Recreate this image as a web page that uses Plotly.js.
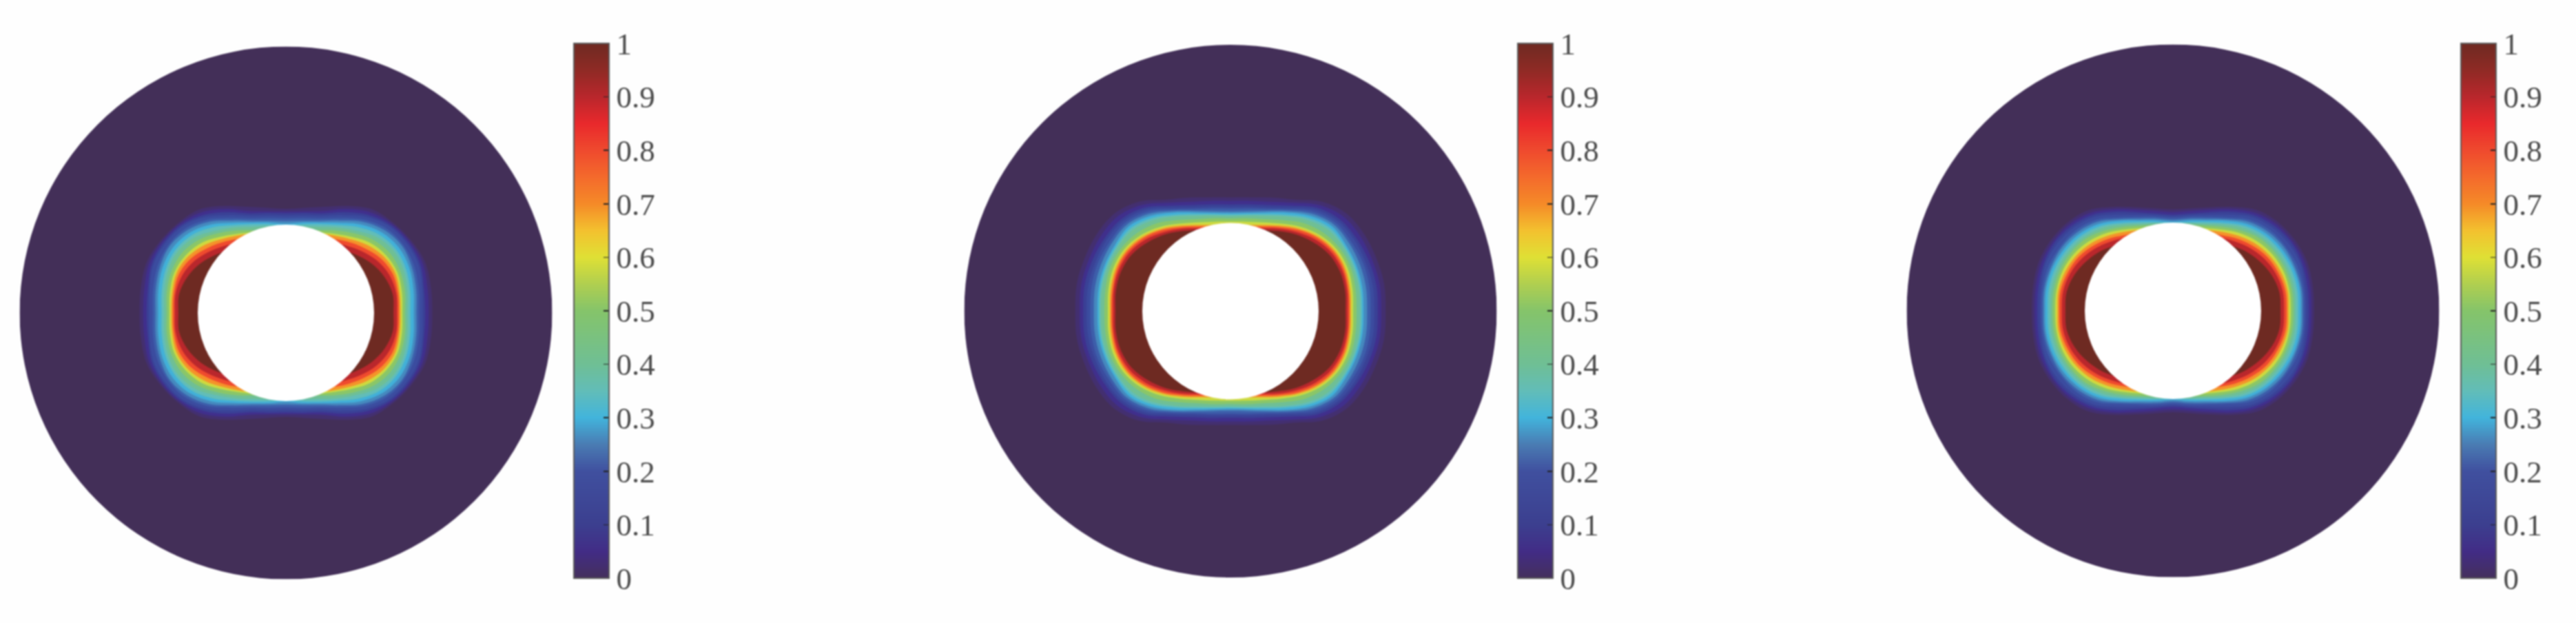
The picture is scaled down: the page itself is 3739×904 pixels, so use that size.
<!DOCTYPE html>
<html><head><meta charset="utf-8">
<script src="https://cdn.plot.ly/plotly-3.0.1.min.js"></script>
<style>html,body{margin:0;padding:0;background:#fefefe}#g{width:3739px;height:904px;filter:blur(1.1px)}</style>
</head><body><div id="g"></div>
<script>
const W = 3739, H = 904;
const RAY_ANGLES = [0,10,20,30,40,50,60,70,80,90];
const LEVELS = [0.02,0.06,0.10,0.15,0.20,0.25,0.30,0.35,0.40,0.50,0.60,0.70,0.80,0.90,1.00];
const LEVEL_COLORS = ['#432f70','#402f8c','#3a4196','#3b4c9f','#3d5eaa','#4589be','#42b0d8','#62bdb8','#6fbf95','#8ac668','#cfda3e','#f5922a','#ef4a2e','#b9272c','#6e2a22'];
const COLOR_STOPS = [[0,'#45305c'],[0.05,'#422c86'],[0.1,'#3c3f8f'],[0.2,'#40509f'],[0.25,'#4a7cb3'],[0.3,'#42b4dc'],[0.35,'#62bdb8'],[0.4,'#6fbf95'],[0.5,'#85c46a'],[0.55,'#b0cf50'],[0.6,'#dfe035'],[0.65,'#f3c12f'],[0.7,'#f58a28'],[0.75,'#f46a2c'],[0.8,'#ef4a2e'],[0.85,'#e9292c'],[0.9,'#b9272c'],[0.95,'#8f2a25'],[1,'#6e2a22']];
const TICK_VALUES = [0,0.1,0.2,0.3,0.4,0.5,0.6,0.7,0.8,0.9,1];
const TICK_LABELS = ['0','0.1','0.2','0.3','0.4','0.5','0.6','0.7','0.8','0.9','1'];
const OUTER_RADIUS = 3.02, HOLE_RADIUS = 1;

// Radius of each level's contour along each ray (hole radius = 1), one row per level
const radiiLeft = [
[1.66,1.67,1.68,1.64,1.59,1.53,1.40,1.28,1.21,1.18],
[1.62,1.63,1.65,1.62,1.57,1.49,1.36,1.23,1.17,1.15],
[1.58,1.59,1.62,1.60,1.55,1.45,1.32,1.20,1.15,1.13],
[1.55,1.57,1.60,1.58,1.53,1.42,1.28,1.17,1.12,1.10],
[1.51,1.53,1.55,1.54,1.49,1.38,1.24,1.14,1.09,1.07],
[1.48,1.50,1.52,1.52,1.46,1.35,1.21,1.11,1.06,1.04],
[1.45,1.47,1.49,1.48,1.42,1.31,1.18,1.09,1.04,1.01],
[1.41,1.43,1.45,1.44,1.38,1.27,1.15,1.07,1.02,0.99],
[1.38,1.40,1.42,1.41,1.34,1.22,1.12,1.04,1.00,0.98],
[1.35,1.37,1.38,1.36,1.29,1.18,1.08,1.00,0.97,0.95],
[1.32,1.335,1.345,1.31,1.24,1.13,1.04,0.98,0.95,0.93],
[1.30,1.31,1.32,1.28,1.20,1.10,1.02,0.96,0.93,0.91],
[1.28,1.29,1.29,1.24,1.15,1.06,0.98,0.94,0.91,0.90],
[1.26,1.27,1.25,1.19,1.10,1.01,0.95,0.92,0.90,0.90],
[1.22,1.23,1.19,1.12,1.03,0.94,0.90,0.90,0.90,0.90]];
const radiiMiddle = [
[1.76,1.77,1.76,1.75,1.72,1.62,1.46,1.37,1.31,1.29],
[1.71,1.72,1.71,1.70,1.67,1.57,1.42,1.32,1.27,1.25],
[1.67,1.68,1.67,1.65,1.62,1.53,1.38,1.28,1.23,1.21],
[1.63,1.64,1.63,1.62,1.59,1.50,1.35,1.25,1.20,1.18],
[1.59,1.60,1.60,1.58,1.56,1.47,1.33,1.23,1.18,1.16],
[1.55,1.56,1.56,1.55,1.53,1.44,1.31,1.21,1.15,1.13],
[1.51,1.52,1.52,1.51,1.50,1.41,1.29,1.19,1.13,1.11],
[1.49,1.50,1.50,1.49,1.47,1.38,1.26,1.17,1.115,1.095],
[1.47,1.48,1.48,1.47,1.44,1.35,1.24,1.15,1.10,1.08],
[1.43,1.44,1.45,1.43,1.38,1.30,1.19,1.11,1.07,1.05],
[1.39,1.405,1.415,1.395,1.335,1.245,1.145,1.07,1.03,1.015],
[1.365,1.38,1.39,1.37,1.31,1.22,1.12,1.04,0.99,0.97],
[1.35,1.36,1.37,1.35,1.29,1.20,1.10,1.02,0.97,0.95],
[1.33,1.345,1.35,1.325,1.26,1.17,1.08,1.00,0.95,0.93],
[1.305,1.32,1.32,1.29,1.22,1.14,1.05,0.98,0.92,0.90]];
const radiiRight = [
[1.60,1.61,1.62,1.60,1.56,1.49,1.36,1.25,1.18,1.15],
[1.57,1.58,1.59,1.57,1.53,1.45,1.33,1.22,1.15,1.12],
[1.54,1.55,1.56,1.55,1.50,1.42,1.30,1.19,1.12,1.09],
[1.51,1.52,1.54,1.52,1.47,1.39,1.26,1.16,1.10,1.07],
[1.49,1.50,1.50,1.47,1.43,1.35,1.22,1.13,1.08,1.05],
[1.47,1.48,1.47,1.45,1.40,1.32,1.20,1.11,1.06,1.03],
[1.45,1.46,1.45,1.42,1.37,1.29,1.18,1.09,1.04,1.01],
[1.42,1.43,1.42,1.39,1.34,1.26,1.15,1.07,1.02,1.00],
[1.39,1.40,1.39,1.36,1.31,1.23,1.13,1.05,1.01,0.99],
[1.365,1.37,1.36,1.33,1.28,1.19,1.10,1.03,0.99,0.97],
[1.335,1.34,1.33,1.295,1.235,1.155,1.065,1.00,0.97,0.95],
[1.31,1.32,1.30,1.26,1.20,1.12,1.04,0.98,0.95,0.93],
[1.29,1.295,1.27,1.23,1.16,1.08,1.00,0.96,0.93,0.91],
[1.26,1.265,1.24,1.19,1.12,1.04,0.97,0.93,0.91,0.90],
[1.22,1.225,1.19,1.13,1.06,0.98,0.92,0.90,0.90,0.90]];

const PANELS = [
 {radii: radiiLeft,   cx: 415,  cy: 454,   barLeft: 833},
 {radii: radiiMiddle, cx: 1786, cy: 451.5, barLeft: 2203},
 {radii: radiiRight,  cx: 3154, cy: 451,   barLeft: 3572}
];
const PX_R = 386.5, BAR_W = 51, BAR_TOP = 63, BAR_BOTTOM = 839;

function outline(row){
  // the four quadrants mirror the read quarter
  const pts = [];
  const add = (deg, r) => pts.push([r*Math.cos(deg*Math.PI/180), r*Math.sin(deg*Math.PI/180)]);
  for (let i=0;i<row.length;i++) add(RAY_ANGLES[i], row[i]);
  for (let i=row.length-2;i>=0;i--) add(180-RAY_ANGLES[i], row[i]);
  for (let i=1;i<row.length;i++) add(180+RAY_ANGLES[i], row[i]);
  for (let i=row.length-2;i>0;i--) add(360-RAY_ANGLES[i], row[i]);
  pts.push(pts[0]);
  return pts;
}

const data = [], layout = {
  width: W, height: H, margin:{l:0,r:0,t:0,b:0,pad:0},
  paper_bgcolor:'#fefefe', plot_bgcolor:'rgba(0,0,0,0)', showlegend:false, shapes:[]
};
PANELS.forEach((p,k)=>{
  const sfx = k===0 ? '' : String(k+1);
  const xa = 'x'+sfx, ya = 'y'+sfx;
  const axis = {range:[-OUTER_RADIUS,OUTER_RADIUS],visible:false,showgrid:false,zeroline:false,fixedrange:true};
  layout['xaxis'+sfx] = Object.assign({},axis,{domain:[(p.cx-PX_R)/W,(p.cx+PX_R)/W],anchor:ya});
  layout['yaxis'+sfx] = Object.assign({},axis,{domain:[1-(p.cy+PX_R)/H,1-(p.cy-PX_R)/H],anchor:xa});
  layout.shapes.push({type:'circle',xref:xa,yref:ya,x0:-OUTER_RADIUS,x1:OUTER_RADIUS,y0:-OUTER_RADIUS,y1:OUTER_RADIUS,fillcolor:'#432f58',line:{width:0},layer:'below'});
  layout.shapes.push({type:'circle',xref:xa,yref:ya,x0:-HOLE_RADIUS,x1:HOLE_RADIUS,y0:-HOLE_RADIUS,y1:HOLE_RADIUS,fillcolor:'#ffffff',line:{width:0},layer:'above'});
  LEVELS.forEach((lv,i)=>{
    const pts = outline(p.radii[i]);
    data.push({type:'scatter',mode:'lines',xaxis:xa,yaxis:ya,x:pts.map(q=>q[0]),y:pts.map(q=>q[1]),
      fill:'toself',fillcolor:LEVEL_COLORS[i],line:{width:0,shape:'spline',smoothing:1,simplify:false},hoverinfo:'skip',name:'z ≥ '+lv});
  });
  data.push({type:'scatter',mode:'markers',xaxis:xa,yaxis:ya,x:[0,0],y:[0,0],hoverinfo:'skip',
    marker:{size:1,opacity:0,color:[0,1],cmin:0,cmax:1,colorscale:COLOR_STOPS,showscale:true,
      colorbar:{x:p.barLeft/W,xanchor:'left',xref:'paper',y:1-BAR_BOTTOM/H,yanchor:'bottom',yref:'paper',
        lenmode:'pixels',len:BAR_BOTTOM-BAR_TOP,thicknessmode:'pixels',thickness:BAR_W,xpad:0,ypad:0,
        outlinecolor:'#5a5a5a',outlinewidth:2,bordercolor:'rgba(0,0,0,0)',borderwidth:0,
        tickmode:'array',tickvals:TICK_VALUES,ticktext:TICK_LABELS,ticks:'inside',ticklen:9,tickwidth:1.5,tickcolor:'#222',
        tickfont:{family:'"Liberation Serif","Times New Roman",serif',size:45,color:'#4a4a4a'}}}});
});
Plotly.newPlot('g',data,layout,{staticPlot:true,displayModeBar:false});
</script></body></html>
